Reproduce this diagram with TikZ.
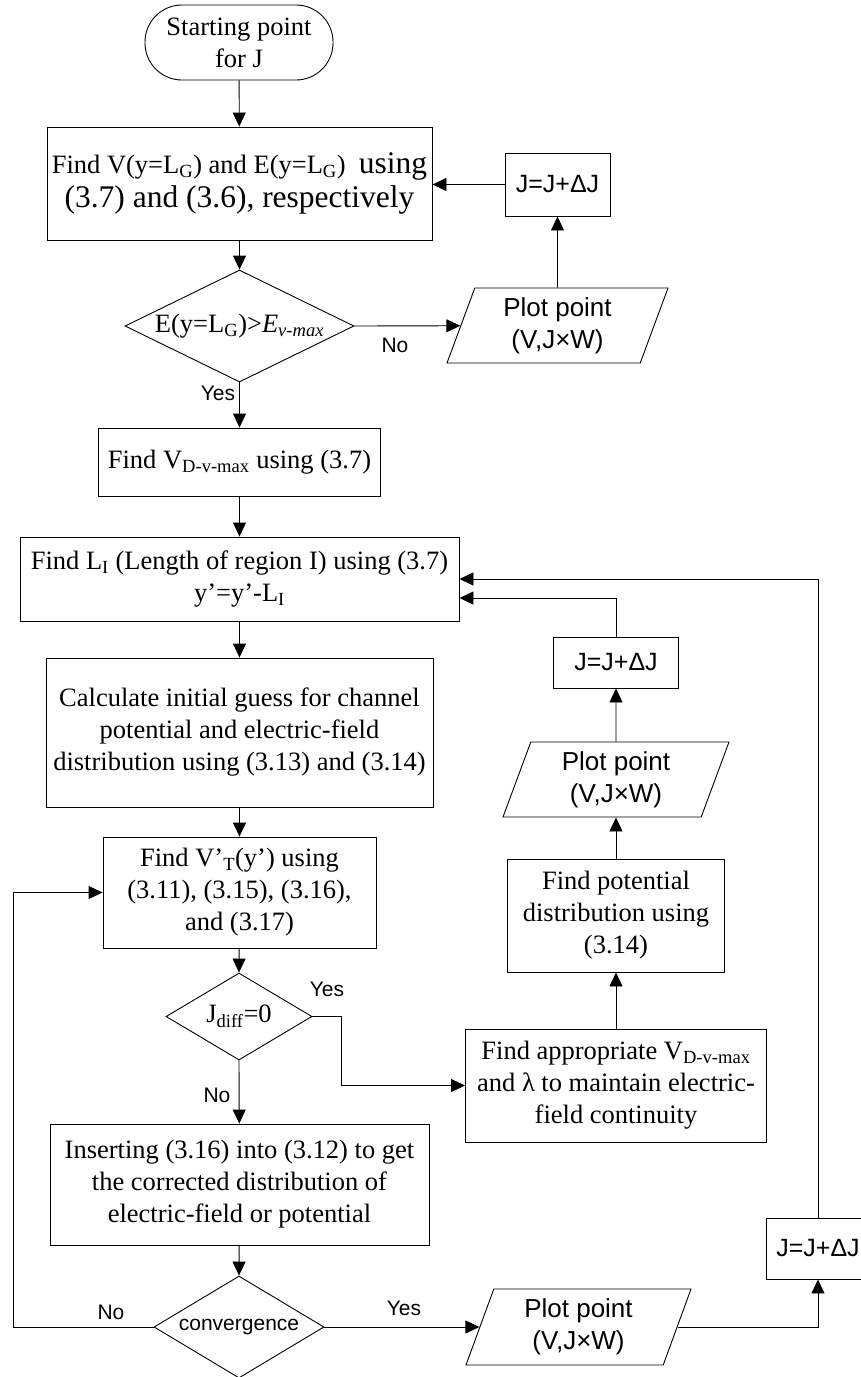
\documentclass[tikz,border=0pt]{standalone}
\usepackage{fontspec}
\setmainfont{Liberation Serif}
\setsansfont{Liberation Sans}
\usetikzlibrary{arrows.meta,shapes.geometric}

\begin{document}
\begin{tikzpicture}[x=1pt,y=-1pt,>={Triangle[length=14pt,width=13pt]},line width=0.9pt,
  proc/.style={draw,rectangle,inner sep=0pt,align=center,font=\fontsize{26.5}{32}\selectfont},
  term/.style={proc,rounded corners=37pt},
  dec/.style={draw,diamond,inner sep=0pt,align=center,font=\fontsize{26.5}{32}\selectfont},
  io/.style={draw,trapezium,trapezium left angle=63.7,trapezium right angle=116.3,
    trapezium stretches body,inner sep=0pt,align=center,font=\sffamily\fontsize{26}{32}\selectfont},
  incr/.style={draw,rectangle,inner sep=0pt,font=\sffamily\fontsize{25}{30}\selectfont},
  lbl/.style={font=\sffamily\fontsize{21}{25}\selectfont,inner sep=0pt}]
  \clip (0,0) rectangle (861,1377);
  % main column
  \node[term,minimum width=188pt,minimum height=75pt] (start) at (239,42.5) {Starting point\\for J};
  \node[proc,minimum width=385pt,minimum height=113pt] (findVE) at (239.5,183.5)
    {Find V(y=L\textsubscript{G}) and E(y=L\textsubscript{G})\ \ {\fontsize{31.5}{38}\selectfont using}\\[2pt]
     {\fontsize{31.5}{38}\selectfont (3.7) and (3.6), respectively}};
  \node[dec,minimum width=229pt,minimum height=112pt,aspect=2.04] (chkE) at (239.5,326)
    {E(y=L\textsubscript{G})>\textit{E}\textsubscript{\textit{v-max}}};
  \node[proc,minimum width=282pt,minimum height=68pt] (findVD) at (239.5,462)
    {Find V\textsubscript{D-v-max} using (3.7)};
  \node[proc,minimum width=439pt,minimum height=84pt] (findL) at (239.5,579)
    {Find L\textsubscript{I} (Length of region I) using (3.7)\\y’=y’-L\textsubscript{I}};
  \node[proc,minimum width=387pt,minimum height=149pt] (guess) at (239.5,732.5)
    {Calculate initial guess for channel\\potential and electric-field\\distribution using (3.13) and (3.14)};
  \node[proc,minimum width=273pt,minimum height=111pt] (findVT) at (239.5,892.5)
    {Find V’\textsubscript{T}(y’) using\\(3.11), (3.15), (3.16),\\and (3.17)};
  \node[dec,minimum width=146pt,minimum height=87pt,aspect=1.68] (chkJ) at (239,1016.5)
    {J\textsubscript{diff}=0};
  \node[proc,minimum width=379pt,minimum height=121pt] (insert) at (239.5,1184.5)
    {Inserting (3.16) into (3.12) to get\\the corrected distribution of\\electric-field or potential};
  \node[dec,minimum width=170pt,minimum height=102pt,aspect=1.67,font=\sffamily\fontsize{21}{25}\selectfont] (conv) at (239,1327)
    {convergence};
  % right side
  \node[io,minimum width=221pt,minimum height=75pt] (plotA) at (557.5,325.5) {Plot point\\(V,J×W)};
  \node[incr,minimum width=105pt,minimum height=63pt] (incA) at (557.5,184.5) {J=J+ΔJ};
  \node[proc,minimum width=301pt,minimum height=113pt] (approp) at (616,1085.5)
    {Find appropriate V\textsubscript{D-v-max}\\and λ to maintain electric-\\field continuity};
  \node[proc,minimum width=217pt,minimum height=113pt] (findP) at (616,915.5)
    {Find potential\\distribution using\\(3.14)};
  \node[io,minimum width=226pt,minimum height=75pt] (plotB) at (616,779.5) {Plot point\\(V,J×W)};
  \node[incr,minimum width=125pt,minimum height=51pt] (incB) at (616,662.5) {J=J+ΔJ};
  \node[io,minimum width=225pt,minimum height=76pt] (plotC) at (578.5,1327) {Plot point\\(V,J×W)};
  \node[incr,minimum width=104pt,minimum height=61pt] (incC) at (818,1248.5) {J=J+ΔJ};
  \coordinate (loopL) at (13,1327);
  % labels
  \node[lbl] (noE) at (395,345) {No};
  \node[lbl] (yesE) at (218,393) {Yes};
  \node[lbl] (yesJ) at (327,989) {Yes};
  \node[lbl] (noJ) at (217,1095) {No};
  \node[lbl] (noC) at (111,1312) {No};
  \node[lbl] (yesC) at (404,1308) {Yes};
  % connectors
  \draw[->] (start) -- (findVE);
  \draw[->] (findVE) -- (chkE);
  \draw[->] (chkE.east) -- (plotA);
  \draw[->] (plotA) -- (incA);
  \draw[->] (incA) -- (incA -| findVE.east);
  \draw[->] (chkE.south) -- (findVD);
  \draw[->] (findVD) -- (findL);
  \draw[->] (findL) -- (guess);
  \draw[->] (guess) -- (findVT);
  \draw[->] (findVT) -- (chkJ.north);
  \draw[->] (chkJ.east) -- ++(29,0) |- (approp.west);
  \draw[->] (chkJ.south) -- (insert);
  \draw[->] (insert) -- (conv.north);
  \draw[->] (conv.west) -- (loopL) |- (findVT.west);
  \draw[->] (conv.east) -- (plotC);
  \draw[->] (plotC.east) -| (incC.south);
  \draw[->] (incC.north) |- (findL.east);
  \draw[->] (approp) -- (findP);
  \draw[->] (findP) -- (plotB);
  \draw[->] (plotB) -- (incB);
  \draw[->] (incB.north) |- ([yshift=-19pt]findL.east);
\end{tikzpicture}
\end{document}
